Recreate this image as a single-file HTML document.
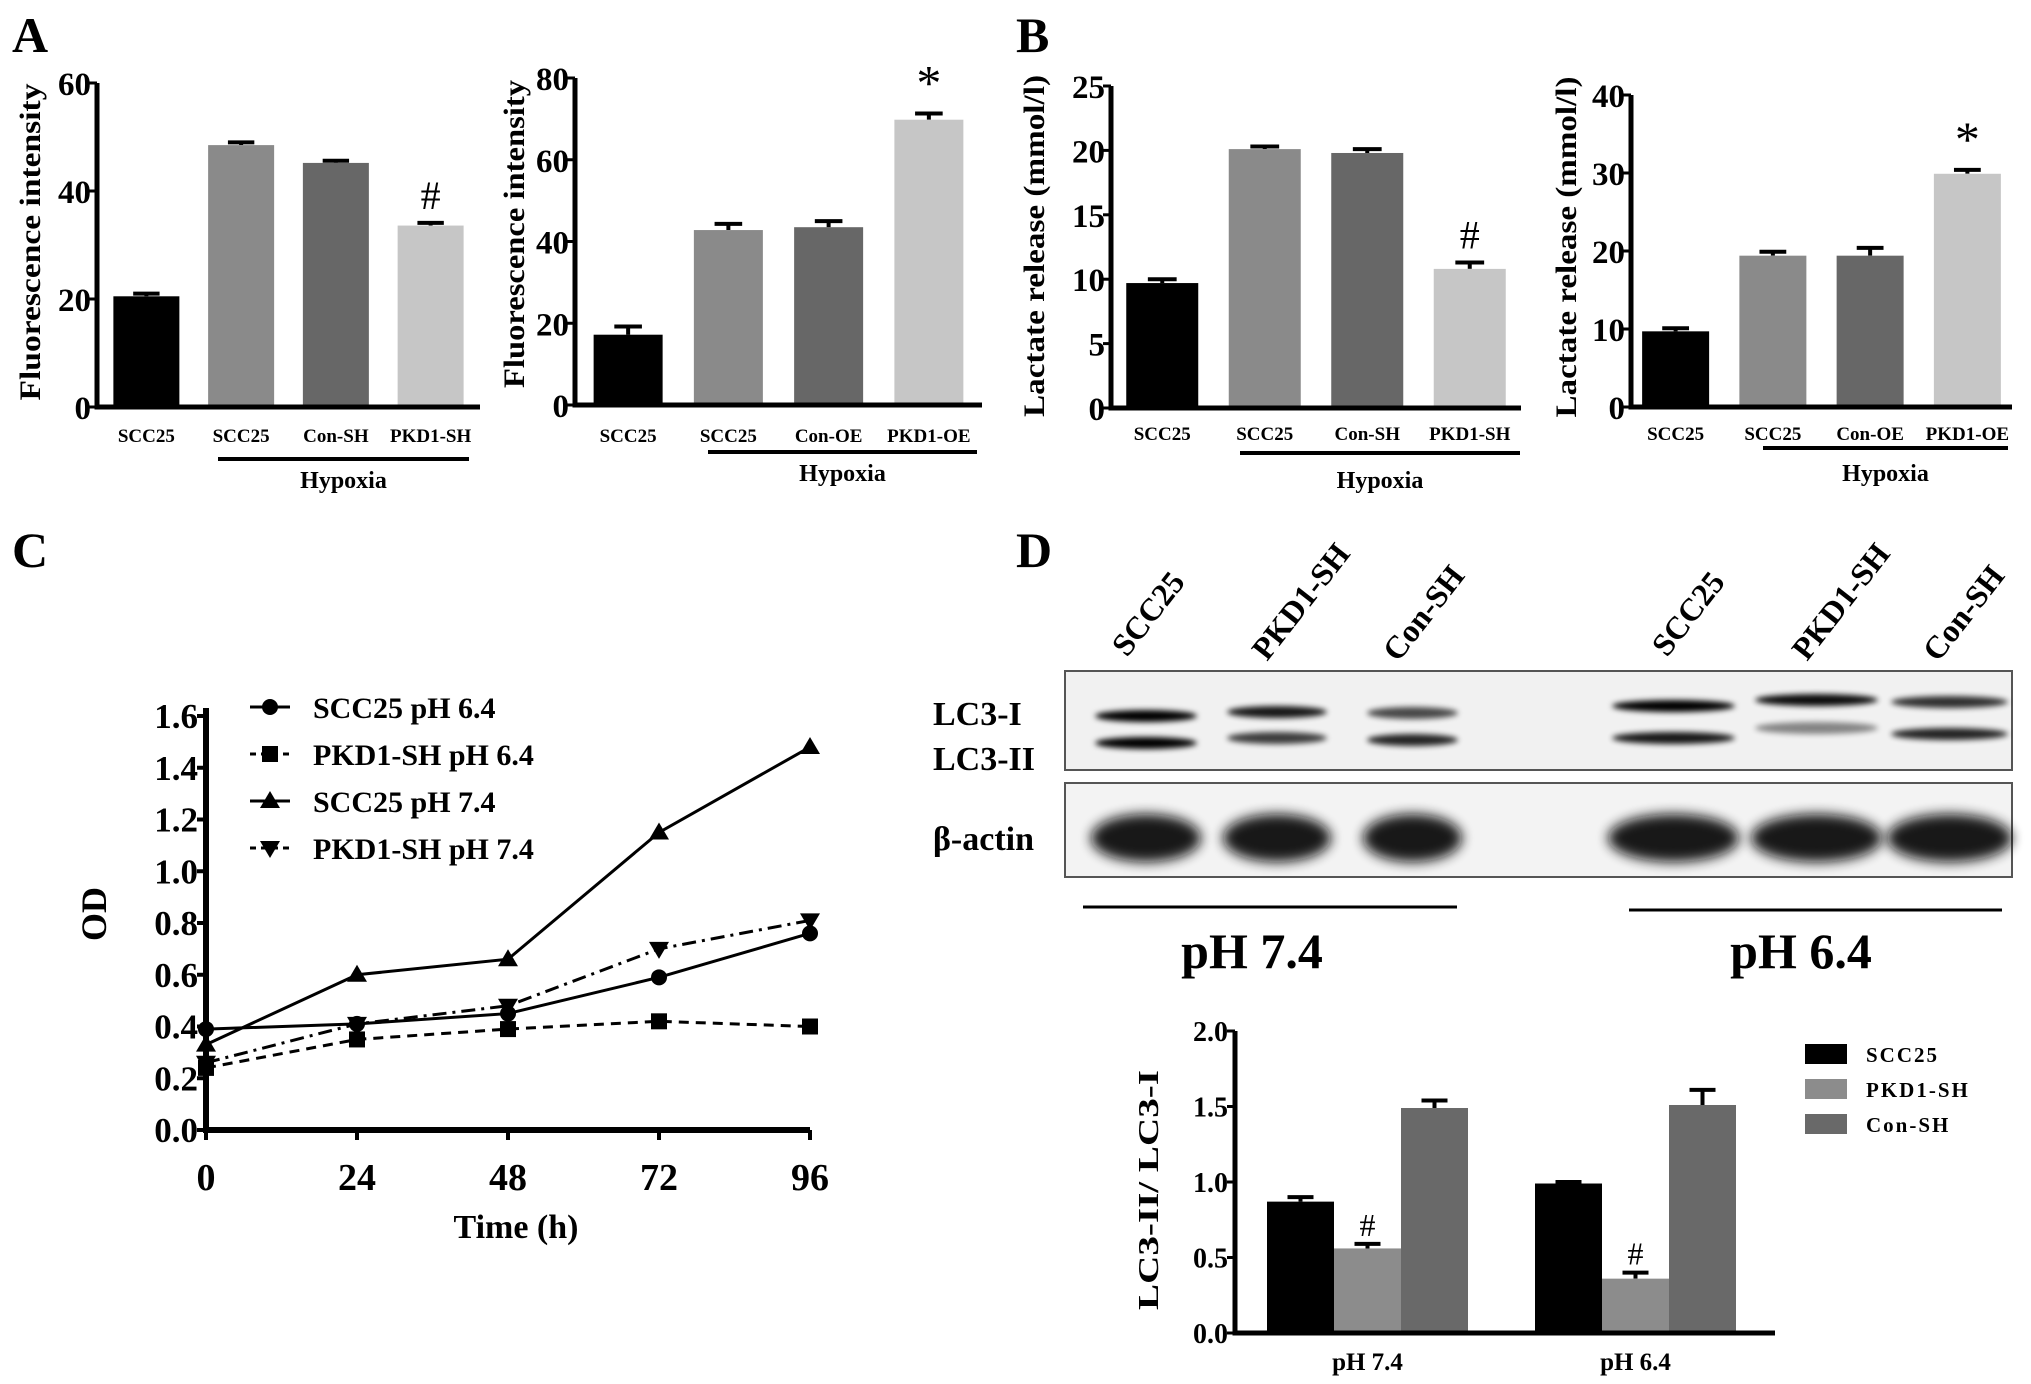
<!DOCTYPE html>
<html><head><meta charset="utf-8"><style>
html,body{margin:0;padding:0;background:#fff;}
svg{display:block;font-family:"Liberation Serif",serif;font-weight:bold;}
</style></head><body>
<svg id="fig" width="2031" height="1384" viewBox="0 0 2031 1384" xmlns="http://www.w3.org/2000/svg">
<defs>
<filter id="blur3" x="-20%" y="-50%" width="140%" height="200%"><feGaussianBlur stdDeviation="3"/></filter>
<filter id="blur6" x="-20%" y="-50%" width="140%" height="200%"><feGaussianBlur stdDeviation="6"/></filter>
</defs>
<text x="12" y="52" font-size="50">A</text>
<text x="1016" y="52" font-size="50">B</text>
<text x="12" y="567" font-size="50">C</text>
<text x="1016" y="567" font-size="50">D</text>
<g id="blot"></g>
<g id="charts"></g>
</svg>
<script>
// ---- Panel A1 data ----
const a1Cats = ["SCC25","SCC25","Con-SH","PKD1-SH"];
const a1Vals = [20.5, 48.5, 45.2, 33.6];
const a1Errs = [0.5, 0.5, 0.4, 0.5];
const a1Ticks = [0,20,40,60];
// ---- Panel A2 data ----
const a2Cats = ["SCC25","SCC25","Con-OE","PKD1-OE"];
const a2Vals = [17.2, 42.8, 43.5, 69.8];
const a2Errs = [2.0, 1.5, 1.5, 1.5];
const a2Ticks = [0,20,40,60,80];
// ---- Panel B1 data ----
const b1Cats = ["SCC25","SCC25","Con-SH","PKD1-SH"];
const b1Vals = [9.7, 20.1, 19.8, 10.8];
const b1Errs = [0.3, 0.2, 0.3, 0.5];
const b1Ticks = [0,5,10,15,20,25];
// ---- Panel B2 data ----
const b2Cats = ["SCC25","SCC25","Con-OE","PKD1-OE"];
const b2Vals = [9.7, 19.4, 19.4, 29.9];
const b2Errs = [0.4, 0.5, 1.0, 0.5];
const b2Ticks = [0,10,20,30,40];
// ---- Panel C data ----
const cTimes = [0,24,48,72,96];
const cScc64 = [0.39, 0.41, 0.45, 0.59, 0.76];
const cPkd64 = [0.24, 0.35, 0.39, 0.42, 0.40];
const cScc74 = [0.33, 0.60, 0.66, 1.15, 1.48];
const cPkd74 = [0.26, 0.41, 0.48, 0.70, 0.81];
const cYTicks = ["0.0","0.2","0.4","0.6","0.8","1.0","1.2","1.4","1.6"];
const cXTicks = ["0","24","48","72","96"];
// ---- Panel D bar data ----
const dGroups = ["pH 7.4","pH 6.4"];
const dSeries = ["SCC25","PKD1-SH","Con-SH"];
const dScc = [0.87, 0.99];
const dPkd = [0.56, 0.36];
const dCon = [1.49, 1.51];
const dSccErr = [0.03, 0.01];
const dPkdErr = [0.03, 0.04];
const dConErr = [0.05, 0.10];
const dTicks = ["0.0","0.5","1.0","1.5","2.0"];

const NS="http://www.w3.org/2000/svg";
const root=document.getElementById('charts');
function el(tag,attrs,parent,txt){const e=document.createElementNS(NS,tag);for(const k in attrs)e.setAttribute(k,attrs[k]);if(txt!==undefined)e.textContent=txt;(parent||root).appendChild(e);return e;}

const barColors=["#000","#8a8a8a","#676767","#c6c6c6"];

function barChart(cfg,cats,vals,errs,ticks){
  const g=el('g',{});
  
  
  const ymax=ticks[ticks.length-1];
  const y=v=>cfg.y0-(cfg.y0-cfg.yTop)*v/ymax;
  ticks.forEach(t=>{
    const tk=el('line',{x1:cfg.ax-8,x2:cfg.ax,y1:y(t),y2:y(t),stroke:'#000','stroke-width':3},g);
    
    const lb=el('text',{x:cfg.ax-6,y:y(t)+12,'font-size':cfg.tickFs,'text-anchor':'end'},g,String(t));
    
  });
  const n=cats.length;const step=(cfg.xEnd-cfg.ax-cfg.pad*2)/n;const bw=cfg.bw;
  cats.forEach((c,i)=>{
    const cx=cfg.ax+cfg.pad+step*(i+0.5);
    const eb=el('path',{d:`M${cx},${y(vals[i])} V${y(vals[i]+errs[i])} M${cx-bw*0.2},${y(vals[i]+errs[i])} H${cx+bw*0.2}`,stroke:'#000','stroke-width':4,fill:'none'},g);
    
    const r=el('rect',{x:cx-bw/2,y:y(vals[i]),width:bw,height:cfg.y0-y(vals[i]),fill:barColors[i]},g);
    
    const t=el('text',{x:cx,y:cfg.labY,'font-size':19,'text-anchor':'middle'},g,c);
    
    if(cfg.mark&&i===n-1){const m=el('text',{x:cx,y:y(vals[i]+errs[i])-14,'font-size':cfg.mark==='*'?50:40,'text-anchor':'middle','font-weight':'normal'},g,cfg.mark);
      }
  });
  const ax=el('path',{d:`M${cfg.ax},${cfg.yTop} V${cfg.y0} H${cfg.xEnd}`,stroke:'#000','stroke-width':5,fill:'none'},g);
  
  const hl=el('line',{x1:cfg.hx1,x2:cfg.hx2,y1:cfg.hy,y2:cfg.hy,stroke:'#000','stroke-width':4},g);
  
  const ht=el('text',{x:(cfg.hx1+cfg.hx2)/2,y:cfg.hty,'font-size':24,'text-anchor':'middle'},g,'Hypoxia');
  
  const yl=el('text',{transform:`translate(${cfg.ylx},${cfg.yly}) rotate(-90)`,'font-size':30,'text-anchor':'middle',textLength:cfg.ylLen,lengthAdjust:'spacingAndGlyphs'},g,cfg.ylabel);
  
}

barChart({name:'chart-a1',ax:97,y0:407,yTop:83,xEnd:480,pad:2,bw:66,tickFs:33,labY:442,hx1:218,hx2:469,hy:459,hty:488,ylx:40,yly:242,ylLen:317,ylabel:'Fluorescence intensity',mark:'#'},a1Cats,a1Vals,a1Errs,a1Ticks);
barChart({name:'chart-a2',ax:575,y0:405,yTop:78,xEnd:982,pad:3,bw:69,tickFs:33,labY:442,hx1:708,hx2:977,hy:452,hty:481,ylx:524,yly:234,ylLen:308,ylabel:'Fluorescence intensity',mark:'*'},a2Cats,a2Vals,a2Errs,a2Ticks);
barChart({name:'chart-b1',ax:1111,y0:408,yTop:86,xEnd:1521,pad:0,bw:72,tickFs:33,labY:440,hx1:1240,hx2:1520,hy:453,hty:488,ylx:1044,yly:246,ylLen:342,ylabel:'Lactate release (mmol/l)',mark:'#'},b1Cats,b1Vals,b1Errs,b1Ticks);
barChart({name:'chart-b2',ax:1631,y0:407,yTop:95,xEnd:2012,pad:-4,bw:67,tickFs:33,labY:440,hx1:1763,hx2:2008,hy:448,hty:481,ylx:1576,yly:247,ylLen:341,ylabel:'Lactate release (mmol/l)',mark:'*'},b2Cats,b2Vals,b2Errs,b2Ticks);

// ---- Panel C line chart ----
(function(){
  const g=el('g',{});
  
  const X0=206,X1=810,Y0=1130,Y1=716;
  const xs=t=>X0+(X1-X0)*t/96;
  const ys=v=>Y0-(Y0-Y1)*v/1.6;
  cYTicks.forEach(t=>{
    const v=parseFloat(t);
    const tk=el('line',{x1:X0-9,x2:X0,y1:ys(v),y2:ys(v),stroke:'#000','stroke-width':4},g);
    
    const lb=el('text',{x:X0-8,y:ys(v)+12,'font-size':35,'text-anchor':'end'},g,t);
    
  });
  cXTicks.forEach(t=>{
    const v=parseFloat(t);
    const tk=el('line',{x1:xs(v),x2:xs(v),y1:Y0,y2:Y0+10,stroke:'#000','stroke-width':4},g);
    
    const lb=el('text',{x:xs(v),y:Y0+60,'font-size':38,'text-anchor':'middle'},g,t);
    
  });
  const ax=el('path',{d:`M${X0},${Y1-8} V${Y0} H${X1}`,stroke:'#000','stroke-width':6,fill:'none'},g);
  
  const xt=el('text',{x:516,y:1238,'font-size':34,'text-anchor':'middle'},g,'Time (h)');
  
  const yt=el('text',{transform:'translate(106,914) rotate(-90)','font-size':36,'text-anchor':'middle'},g,'OD');
  
  function marker(kind,x,y,p){
    let m;
    if(kind==='circle')m=el('circle',{cx:x,cy:y,r:8,fill:'#000'},p);
    else if(kind==='square')m=el('rect',{x:x-8,y:y-8,width:16,height:16,fill:'#000'},p);
    else if(kind==='tri')m=el('path',{d:`M${x},${y-10} L${x+10},${y+7} L${x-10},${y+7}Z`,fill:'#000'},p);
    else m=el('path',{d:`M${x},${y+10} L${x+10},${y-7} L${x-10},${y-7}Z`,fill:'#000'},p);
    return m;
  }
  const series=[
    {name:'SCC25 pH 6.4',vals:cScc64,kind:'circle',dash:''},
    {name:'PKD1-SH pH 6.4',vals:cPkd64,kind:'square',dash:'10 7'},
    {name:'SCC25 pH 7.4',vals:cScc74,kind:'tri',dash:''},
    {name:'PKD1-SH pH 7.4',vals:cPkd74,kind:'inv',dash:'14 6 3 6'}
  ];
  series.forEach((s,si)=>{
    const sg=el('g',{},g);
    
    
    const d=s.vals.map((v,i)=>(i?'L':'M')+xs(cTimes[i])+','+ys(v)).join(' ');
    const p=el('path',{d:d,fill:'none',stroke:'#000','stroke-width':3,'stroke-dasharray':s.dash},sg);
    
    s.vals.forEach((v,i)=>{const m=marker(s.kind,xs(cTimes[i]),ys(v),sg);
      });
    const ly=707+si*47;
    const lg=el('g',{},g);
    
    el('line',{x1:250,x2:290,y1:ly,y2:ly,stroke:'#000','stroke-width':3,'stroke-dasharray':s.dash?'6 5':''},lg);
    marker(s.kind,270,ly,lg);
    el('text',{x:313,y:ly+11,'font-size':30},lg,s.name);
  });
})();

// ---- Panel D bar chart ----
(function(){
  const g=el('g',{});
  
  const X0=1235,XE=1775,Y0=1333,YT=1031;
  const ys=v=>Y0-(Y0-YT)*v/2;
  dTicks.forEach(t=>{const v=parseFloat(t);
    const tk=el('line',{x1:X0-8,x2:X0,y1:ys(v),y2:ys(v),stroke:'#000','stroke-width':3},g);
    
    const lb=el('text',{x:X0-7,y:ys(v)+10,'font-size':28,'text-anchor':'end'},g,t);
    });
  const cols=['#000','#8c8c8c','#696969'];
  const vals=[dScc,dPkd,dCon],errs=[dSccErr,dPkdErr,dConErr];
  const bw=67,groupStart=[1267,1535];
  dGroups.forEach((gname,gi)=>{
    for(let s=0;s<3;s++){
      const x=groupStart[gi]+s*bw, v=vals[s][gi], e=errs[s][gi];
      const cx=x+bw/2;
      const eb=el('path',{d:`M${cx},${ys(v)} V${ys(v+e)} M${cx-13},${ys(v+e)} H${cx+13}`,stroke:'#000','stroke-width':4},g);
      
      const r=el('rect',{x:x,y:ys(v),width:bw,height:Y0-ys(v),fill:cols[s]},g);
      
      if(s===1){const m=el('text',{x:cx,y:ys(v+e)-8,'font-size':32,'text-anchor':'middle','font-weight':'normal'},g,'#');
        }
    }
    const lb=el('text',{x:groupStart[gi]+bw*1.5,y:1370,'font-size':25,'text-anchor':'middle'},g,gname);
    
  });
  const ax=el('path',{d:`M${X0},${YT} V${Y0} H${XE}`,stroke:'#000','stroke-width':5,fill:'none'},g);
  
  const yt=el('text',{transform:'translate(1158,1190) rotate(-90)','font-size':28,'text-anchor':'middle',textLength:240,lengthAdjust:'spacingAndGlyphs'},g,'LC3-II/ LC3-I');
  
  dSeries.forEach((s,i)=>{
    const lg=el('g',{},g);
    
    const ly=1054+i*35;
    el('rect',{x:1805,y:ly-10,width:42,height:20,fill:cols[i]},lg);
    el('text',{x:1866,y:ly+8,'font-size':21,'letter-spacing':'2'},lg,s);
  });
})();

// ---- Western blot ----
(function(){
  const b=document.getElementById('blot');
  el('rect',{x:1065,y:671,width:947,height:99,fill:'#f1f1f1',stroke:'#555','stroke-width':2},b);
  el('rect',{x:1065,y:783,width:947,height:94,fill:'#f3f3f3',stroke:'#555','stroke-width':2},b);
  const lanes=[[1095,1197,1,1],[1227,1327,0.9,0.75],[1367,1458,0.7,0.85],[1612,1735,1,0.9],[1755,1878,0.95,0.45],[1891,2008,0.8,0.85]];
  const ys1=[716,712,713,706,700,702], ys2=[743,738,740,738,728,734];
  lanes.forEach((l,i)=>{
    const cx=(l[0]+l[1])/2,w=(l[1]-l[0])/2;
    const g=el('g',{},b);
    
    el('ellipse',{cx:cx,cy:ys1[i],rx:w,ry:6,fill:'#000',opacity:l[2],filter:'url(#blur3)'},g);
    el('ellipse',{cx:cx,cy:ys2[i],rx:w,ry:6,fill:'#000',opacity:l[3],filter:'url(#blur3)'},g);
    el('ellipse',{cx:cx,cy:838,rx:w+4,ry:24,fill:'#111',opacity:0.95,filter:'url(#blur6)'},g);
  });
  const lbl=[['LC3-I',725],['LC3-II',770],['β-actin',850]];
  lbl.forEach(a=>{const t=el('text',{x:933,y:a[1],'font-size':34},b,a[0]);
    });
  const lanesLbl=[['SCC25',1127,658],['PKD1-SH',1267,662],['Con-SH',1398,663],['SCC25',1667,658],['PKD1-SH',1807,662],['Con-SH',1938,663]];
  lanesLbl.forEach(a=>{const t=el('text',{transform:`translate(${a[1]},${a[2]}) rotate(-52)`,'font-size':32},b,a[0]);
    });
  el('line',{x1:1083,x2:1457,y1:907,y2:907,stroke:'#000','stroke-width':3},b);
  el('line',{x1:1629,x2:2002,y1:910,y2:910,stroke:'#000','stroke-width':3},b);
  const p1=el('text',{x:1252,y:968,'font-size':50,'text-anchor':'middle'},b,'pH 7.4');
  
  const p2=el('text',{x:1801,y:968,'font-size':50,'text-anchor':'middle'},b,'pH 6.4');
  
})();
</script>
</body></html>
